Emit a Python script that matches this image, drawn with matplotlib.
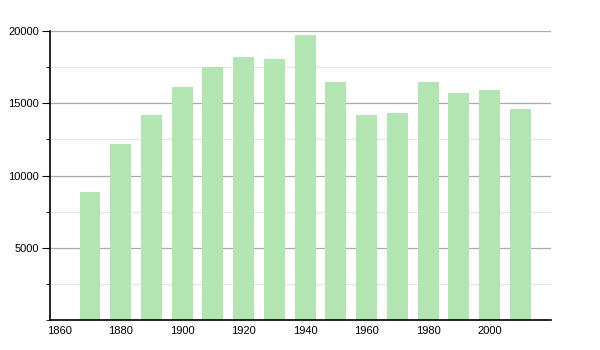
import matplotlib
matplotlib.use('Agg')
import matplotlib.pyplot as plt
from matplotlib.ticker import MultipleLocator

years = [1870, 1880, 1890, 1900, 1910, 1920, 1930, 1940, 1950, 1960, 1970, 1980, 1990, 2000, 2010]
population = [8850, 12160, 14170, 16100, 17480, 18180, 18040, 19700, 16450, 14220, 14300, 16450, 15690, 15900, 14580]
xtick_years = [1860, 1880, 1900, 1920, 1940, 1960, 1980, 2000]
ytick_values = [5000, 10000, 15000, 20000]

plt.rcParams['font.family'] = ['Liberation Sans', 'DejaVu Sans']

fig = plt.figure(figsize=(6, 3.5), dpi=100)
ax = fig.add_axes([50 / 600, 30 / 350, 501 / 600, 289 / 350])

ax.bar(years, population, width=6.8, color='#b3e5b3', zorder=2)

ax.set_xlim(1857, 2020)
ax.set_ylim(0, 20000)
ax.set_xticks(xtick_years)
ax.set_yticks(ytick_values)
ax.yaxis.set_minor_locator(MultipleLocator(2500))
ax.tick_params(axis='x', length=0, labelsize=8, pad=4)
ax.tick_params(axis='y', which='major', length=6, labelsize=8, pad=2)
ax.tick_params(axis='y', which='minor', length=3)

ax.grid(axis='y', which='major', color='#aaaaaa', linewidth=0.9, zorder=0)
ax.grid(axis='y', which='minor', color='#e6e6e6', linewidth=0.9, zorder=0)

for s in ['top', 'right']:
    ax.spines[s].set_visible(False)
ax.spines['left'].set_linewidth(1.2)
ax.spines['bottom'].set_linewidth(1.2)

fig.savefig('out.png', dpi=100)
